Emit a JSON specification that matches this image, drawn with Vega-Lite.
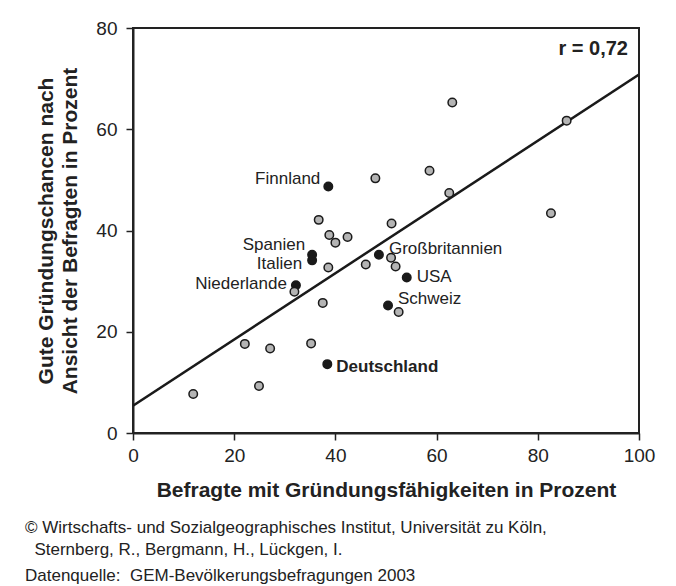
{
  "$schema": "https://vega.github.io/schema/vega-lite/v6.json",
  "width": 506,
  "height": 405,
  "autosize": {"type": "none"},
  "padding": {"left": 133, "top": 28, "right": 37, "bottom": 153},
  "background": "white",
  "datasets": {
    "laender": [
      {"land": "Finnland", "x": 38.6, "y": 48.7, "gruppe": "markiert"},
      {"land": "Spanien", "x": 35.4, "y": 35.2, "gruppe": "markiert"},
      {"land": "Italien", "x": 35.4, "y": 34.1, "gruppe": "markiert"},
      {"land": "Großbritannien", "x": 48.6, "y": 35.2, "gruppe": "markiert"},
      {"land": "USA", "x": 54.1, "y": 30.7, "gruppe": "markiert"},
      {"land": "Niederlande", "x": 32.2, "y": 29.2, "gruppe": "markiert"},
      {"land": "Schweiz", "x": 50.4, "y": 25.2, "gruppe": "markiert"},
      {"land": "Deutschland", "x": 38.4, "y": 13.6, "gruppe": "markiert"},
      {"land": "", "x": 47.9, "y": 50.3, "gruppe": "übrige"},
      {"land": "", "x": 36.7, "y": 42.1, "gruppe": "übrige"},
      {"land": "", "x": 51.1, "y": 41.4, "gruppe": "übrige"},
      {"land": "", "x": 38.8, "y": 39.1, "gruppe": "übrige"},
      {"land": "", "x": 40.0, "y": 37.6, "gruppe": "übrige"},
      {"land": "", "x": 42.4, "y": 38.7, "gruppe": "übrige"},
      {"land": "", "x": 38.6, "y": 32.7, "gruppe": "übrige"},
      {"land": "", "x": 46.0, "y": 33.3, "gruppe": "übrige"},
      {"land": "", "x": 51.0, "y": 34.6, "gruppe": "übrige"},
      {"land": "", "x": 51.9, "y": 32.9, "gruppe": "übrige"},
      {"land": "", "x": 31.9, "y": 27.9, "gruppe": "übrige"},
      {"land": "", "x": 58.6, "y": 51.8, "gruppe": "übrige"},
      {"land": "", "x": 63.1, "y": 65.3, "gruppe": "übrige"},
      {"land": "", "x": 85.7, "y": 61.7, "gruppe": "übrige"},
      {"land": "", "x": 62.5, "y": 47.4, "gruppe": "übrige"},
      {"land": "", "x": 82.6, "y": 43.4, "gruppe": "übrige"},
      {"land": "", "x": 52.5, "y": 23.9, "gruppe": "übrige"},
      {"land": "", "x": 37.5, "y": 25.7, "gruppe": "übrige"},
      {"land": "", "x": 22.1, "y": 17.6, "gruppe": "übrige"},
      {"land": "", "x": 27.1, "y": 16.7, "gruppe": "übrige"},
      {"land": "", "x": 35.2, "y": 17.7, "gruppe": "übrige"},
      {"land": "", "x": 24.9, "y": 9.3, "gruppe": "übrige"},
      {"land": "", "x": 11.9, "y": 7.7, "gruppe": "übrige"}
    ],
    "trend": [
      {"x": 0, "y": 5.4},
      {"x": 100, "y": 70.8}
    ],
    "kennwert": [
      {"x": 100, "y": 80, "text": "r = 0,72"}
    ]
  },
  "data": {"name": "laender"},
  "title": {
    "text": ["© Wirtschafts- und Sozialgeographisches Institut, Universität zu Köln,", "\u200b\u00a0\u00a0Sternberg, R., Bergmann, H., Lückgen, I."],
    "subtitle": "Datenquelle:\u00a0 GEM-Bevölkerungsbefragungen 2003",
    "orient": "bottom",
    "anchor": "start",
    "frame": "group",
    "dx": -108,
    "offset": 20,
    "font": "Liberation Sans",
    "fontSize": 17,
    "fontWeight": "normal",
    "color": "#222",
    "lineHeight": 21.5,
    "subtitleFont": "Liberation Sans",
    "subtitleFontSize": 17,
    "subtitleColor": "#222",
    "subtitlePadding": 9
  },
  "config": {
    "font": "Liberation Sans",
    "view": {"stroke": "#222", "strokeWidth": 2},
    "axis": {
      "grid": false,
      "domainColor": "#222",
      "domainWidth": 2,
      "tickColor": "#222",
      "tickWidth": 1.5,
      "tickSize": 7,
      "labelFont": "Liberation Sans",
      "labelFontSize": 19,
      "labelColor": "#222",
      "labelFlush": false,
      "titleFont": "Liberation Sans",
      "titleFontSize": 21,
      "titleFontWeight": "bold",
      "titleColor": "#222"
    },
    "axisX": {"labelPadding": 6, "titlePadding": 14, "labelAngle": 0},
    "axisY": {"labelPadding": 9, "titlePadding": 15, "titleLineHeight": 24},
    "text": {"font": "Liberation Sans", "color": "#222"}
  },
  "encoding": {
    "x": {
      "field": "x",
      "type": "quantitative",
      "scale": {"domain": [0, 100], "nice": false},
      "axis": {"values": [0, 20, 40, 60, 80, 100], "title": "Befragte mit Gründungsfähigkeiten in Prozent"}
    },
    "y": {
      "field": "y",
      "type": "quantitative",
      "scale": {"domain": [0, 80], "nice": false},
      "axis": {"values": [0, 20, 40, 60, 80], "title": ["Gute Gründungschancen nach", "Ansicht der Befragten in Prozent"]}
    }
  },
  "layer": [
    {
      "data": {"name": "trend"},
      "mark": {"type": "line", "color": "#1a1a1a", "strokeWidth": 2.5, "clip": true}
    },
    {
      "mark": {"type": "circle", "size": 72, "stroke": "#1a1a1a", "strokeWidth": 1.5, "opacity": 1},
      "encoding": {
        "fill": {
          "field": "gruppe",
          "type": "nominal",
          "scale": {"domain": ["markiert", "übrige"], "range": ["#1a1a1a", "#b4b4b4"]},
          "legend": null
        }
      }
    },
    {
      "transform": [{"filter": {"field": "land", "equal": "Finnland"}}],
      "mark": {"type": "text", "align": "right", "baseline": "middle", "dx": -8, "dy": -7.5, "fontSize": 17},
      "encoding": {"text": {"field": "land"}}
    },
    {
      "transform": [{"filter": {"field": "land", "equal": "Spanien"}}],
      "mark": {"type": "text", "align": "right", "baseline": "middle", "dx": -7, "dy": -10, "fontSize": 17},
      "encoding": {"text": {"field": "land"}}
    },
    {
      "transform": [{"filter": {"field": "land", "equal": "Italien"}}],
      "mark": {"type": "text", "align": "right", "baseline": "middle", "dx": -10, "dy": 3.5, "fontSize": 17},
      "encoding": {"text": {"field": "land"}}
    },
    {
      "transform": [{"filter": {"field": "land", "equal": "Niederlande"}}],
      "mark": {"type": "text", "align": "right", "baseline": "middle", "dx": -9, "dy": -1.5, "fontSize": 17},
      "encoding": {"text": {"field": "land"}}
    },
    {
      "transform": [{"filter": {"field": "land", "oneOf": ["Großbritannien", "Schweiz"]}}],
      "mark": {"type": "text", "align": "left", "baseline": "middle", "dx": 10, "dy": -6, "fontSize": 17},
      "encoding": {"text": {"field": "land"}}
    },
    {
      "transform": [{"filter": {"field": "land", "equal": "USA"}}],
      "mark": {"type": "text", "align": "left", "baseline": "middle", "dx": 10, "dy": -1, "fontSize": 17},
      "encoding": {"text": {"field": "land"}}
    },
    {
      "transform": [{"filter": {"field": "land", "equal": "Deutschland"}}],
      "mark": {"type": "text", "align": "left", "baseline": "middle", "dx": 9, "dy": 3, "fontSize": 17, "fontWeight": "bold"},
      "encoding": {"text": {"field": "land"}}
    },
    {
      "data": {"name": "kennwert"},
      "mark": {"type": "text", "align": "right", "baseline": "top", "dx": -11, "dy": 11, "fontSize": 20, "fontWeight": "bold"},
      "encoding": {
        "text": {"field": "text"}
      }
    }
  ]
}
